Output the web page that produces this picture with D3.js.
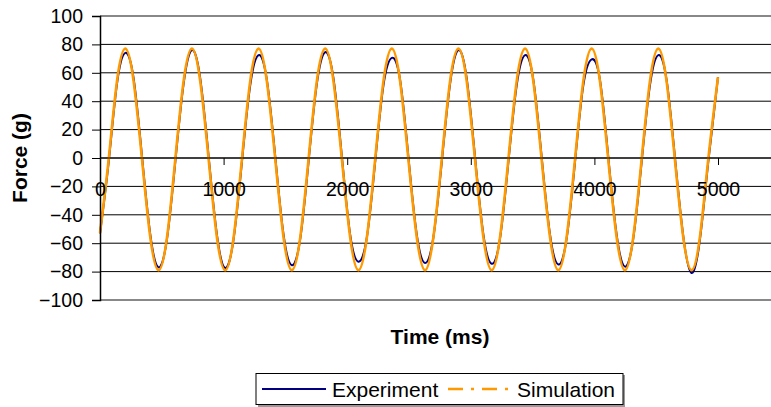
<!DOCTYPE html>
<html>
<head>
<meta charset="utf-8">
<script src="https://cdn.jsdelivr.net/npm/d3@7"></script>
<style>
  body { margin: 0; background: #fff; }
  text { font-family: Arial, "Liberation Sans", sans-serif; fill: #000; }
</style>
</head>
<body>
<script>
//******************************************************************************
// Data ************************************************************************

    var timeMs = [0, 70, 137, 205, 272, 340, 407, 474, 542, 609, 676, 744, 811, 879, 946,
        1013, 1081, 1148, 1215, 1283, 1350, 1418, 1485, 1552, 1620, 1687, 1754, 1822, 1889,
        1957, 2024, 2091, 2159, 2226, 2293, 2361, 2428, 2495, 2563, 2630, 2697, 2765, 2832,
        2900, 2967, 3034, 3102, 3169, 3236, 3304, 3371, 3439, 3506, 3573, 3641, 3708, 3775,
        3843, 3910, 3978, 4045, 4112, 4180, 4247, 4314, 4382, 4449, 4517, 4584, 4651, 4719,
        4786, 4853, 4921, 5000];

    var experiment = [-53, -3, 52, 74, 56, 1, -54, -77, -57,
        -3, 52, 76, 56, 1, -54, -77.5, -57,
        -3, 51, 72.5, 55, 1, -54, -75.5, -57,
        -3, 52, 74.5, 56, 1, -54, -73, -56,
        -3, 51, 70.5, 55, 1, -54, -74, -56,
        -3, 52, 76, 56, 1, -54, -74.5, -57,
        -3, 51, 72.5, 55, 1, -54, -75, -57,
        -3, 51, 69.5, 55, 1, -54, -76.5, -57,
        -3, 51, 72.5, 55, 1, -55, -81, -58,
        -3, 57];

    var simulation = [-53, -1, 54, 77, 54, -1, -56, -79, -56,
        -1, 54, 77, 54, -1, -56, -79, -56,
        -1, 54, 77, 54, -1, -56, -79, -56,
        -1, 54, 77, 54, -1, -56, -79, -56,
        -1, 54, 77, 54, -1, -56, -79, -56,
        -1, 54, 77, 54, -1, -56, -79, -56,
        -1, 54, 77, 54, -1, -56, -79, -56,
        -1, 54, 77, 54, -1, -56, -79, -56,
        -1, 54, 77, 54, -1, -56, -79, -56,
        -1, 57];

    var yTicks = [100, 80, 60, 40, 20, 0, -20, -40, -60, -80, -100];
    var xTicks = [0, 1000, 2000, 3000, 4000, 5000];

    var seriesNames = ["Experiment", "Simulation"];
    var seriesColors = ["#000080", "#FF9900"];

//******************************************************************************
// Settings ********************************************************************

    var chartSettings = {
        width : 771,//px
        height : 407,//px

        plotLeft : 100,//px
        plotTop : 16,//px
        plotBottom : 300,//px
        x5000 : 718,//px  position of 5000 ms on the axis
    };

//******************************************************************************
// Prog ************************************************************************

    var svg = d3.select("body").append("svg")
        .attr("width", chartSettings.width)
        .attr("height", chartSettings.height);

    var xScale = d3.scaleLinear()
        .domain([0, 5000])
        .range([chartSettings.plotLeft, chartSettings.x5000]);

    var yScale = d3.scaleLinear()
        .domain([-100, 100])
        .range([chartSettings.plotBottom, chartSettings.plotTop]);

    drawGrid();
    drawLines();
    drawAxes();
    drawLegend();

//******************************************************************************
// Functions *******************************************************************

    function drawGrid(){ // horizontal grid lines + plot border
        svg.append("g")
          .selectAll("line")
          .data(yTicks)
          .join("line")
          .attr("x1", chartSettings.plotLeft)
          .attr("x2", chartSettings.width)
          .attr("y1", d => yScale(d))
          .attr("y2", d => yScale(d))
          .style("stroke", d => (d === 100 || d === -100) ? "#888" : "#000")
          .style("stroke-width", d => (d === 100 || d === -100) ? 2 : 1);
    }

    function drawLines(){ // both series through the same time scale
        var data = timeMs.map((t, i) => ({t: t, e: experiment[i], s: simulation[i]}));

        var lineExp = d3.line()
          .x(d => xScale(d.t))
          .y(d => yScale(d.e))
          .curve(d3.curveNatural);

        var lineSim = d3.line()
          .x(d => xScale(d.t))
          .y(d => yScale(d.s))
          .curve(d3.curveNatural);

        svg.append("path")
          .datum(data)
          .attr("d", lineExp)
          .style("fill", "none")
          .style("stroke", seriesColors[0])
          .style("stroke-width", 2);

        svg.append("path")
          .datum(data)
          .attr("d", lineSim)
          .style("fill", "none")
          .style("stroke", seriesColors[1])
          .style("stroke-width", 2.6);
    }

    function drawAxes(){
        var yAxis = d3.axisLeft(yScale)
          .tickValues(yTicks)
          .tickSize(8)
          .tickPadding(9);

        var gy = svg.append("g")
          .attr("transform", "translate(" + chartSettings.plotLeft + ",0)")
          .call(yAxis);
        gy.select(".domain").style("stroke", "#000").style("stroke-width", 1.5);
        gy.selectAll(".tick line").style("stroke", "#000");
        gy.selectAll(".tick text")
          .style("font-size", "19.5px")
          .style("font-family", "Arial, 'Liberation Sans', sans-serif");

        var xAxis = d3.axisBottom(xScale)
          .tickValues(xTicks)
          .tickSize(7)
          .tickPadding(0)
          .tickFormat(d3.format("d"));

        var gx = svg.append("g")
          .attr("transform", "translate(0," + yScale(0) + ")")
          .call(xAxis);
        gx.select(".domain").remove();
        gx.append("line")
          .attr("x1", chartSettings.plotLeft)
          .attr("x2", chartSettings.width)
          .style("stroke", "#000")
          .style("stroke-width", 1);
        gx.selectAll(".tick line").style("stroke", "#000");
        gx.selectAll(".tick text")
          .attr("y", 38)
          .attr("dy", 0)
          .style("font-size", "19.5px")
          .style("font-family", "Arial, 'Liberation Sans', sans-serif");

        svg.append("text") // x title
          .attr("x", 440)
          .attr("y", 344)
          .attr("text-anchor", "middle")
          .style("font-size", "21px")
          .style("font-weight", "bold")
          .text("Time (ms)");

        svg.append("text") // y title
          .attr("transform", "translate(27," + yScale(0) + ") rotate(-90)")
          .attr("text-anchor", "middle")
          .style("font-size", "21px")
          .style("font-weight", "bold")
          .text("Force (g)");
    }

    function drawLegend(){
        var lg = svg.append("g");

        lg.append("rect") // shadow
          .attr("x", 258).attr("y", 375)
          .attr("width", 367).attr("height", 32)
          .style("fill", "#999");

        lg.append("rect")
          .attr("x", 256).attr("y", 373.5)
          .attr("width", 367).attr("height", 31)
          .style("fill", "#fff")
          .style("stroke", "#000")
          .style("stroke-width", 1);

        var items = [
            {name: seriesNames[0], color: seriesColors[0], x1: 262, x2: 326, tx: 332, dash: null},
            {name: seriesNames[1], color: seriesColors[1], x1: 448, x2: 511, tx: 517, dash: "15,8,3,8"}
        ];

        items.forEach(it => {
            lg.append("line")
              .attr("x1", it.x1).attr("x2", it.x2)
              .attr("y1", 389).attr("y2", 389)
              .style("stroke", it.color)
              .style("stroke-width", it.dash ? 2.6 : 2)
              .style("stroke-dasharray", it.dash);
            lg.append("text")
              .attr("x", it.tx)
              .attr("y", 397)
              .style("font-size", "21px")
              .text(it.name);
        });
    }
</script>
</body>
</html>
